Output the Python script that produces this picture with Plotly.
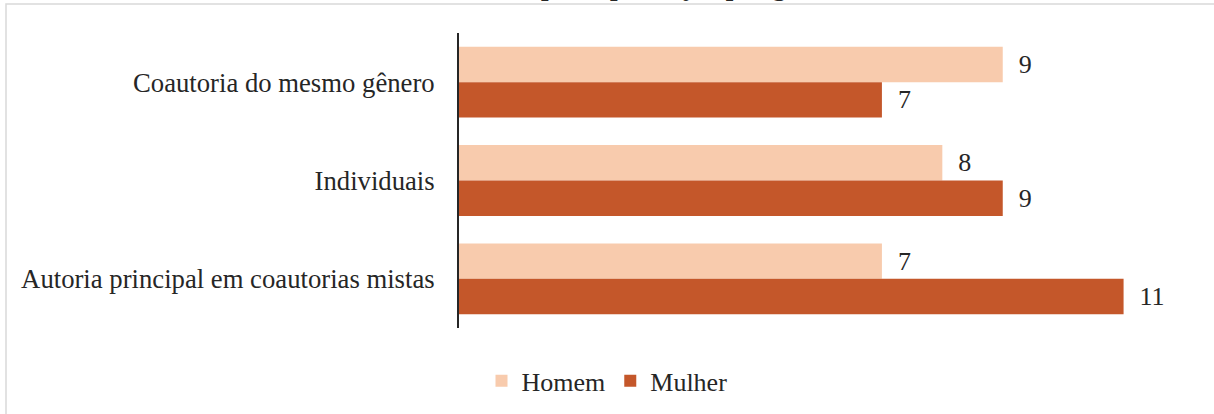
import plotly.graph_objects as go

# dados
categorias = ['Coautoria do mesmo gênero', 'Individuais', 'Autoria principal em coautorias mistas']
homem = [9, 8, 7]
mulher = [7, 9, 11]
titulo = 'Tipo de produção por gênero'

fonte = 'Liberation Serif, Times New Roman, serif'
nbsp = '\u00a0\u00a0'

bar_homem = go.Bar(
    y=categorias,
    x=homem,
    orientation='h',
    name='Homem',
    marker=dict(color='#F8CBAD', line=dict(width=0)),
    text=[nbsp + str(v) for v in homem],
    textposition='outside',
    textfont=dict(family=fonte, size=26, color='#262626'),
    cliponaxis=False
)

bar_mulher = go.Bar(
    y=categorias,
    x=mulher,
    orientation='h',
    name='Mulher',
    marker=dict(color='#C4572A', line=dict(width=0)),
    text=[nbsp + str(v) for v in mulher],
    textposition='outside',
    textfont=dict(family=fonte, size=26, color='#262626'),
    cliponaxis=False
)

layout = go.Layout(
    width=1214,
    height=414,
    margin=dict(l=459, r=30, t=33, b=86),
    paper_bgcolor='white',
    plot_bgcolor='white',
    font=dict(family=fonte, size=26, color='#262626'),
    barmode='group',
    bargap=0.28,
    bargroupgap=0,
    xaxis=dict(range=[0, 12], showgrid=False, zeroline=False,
               showticklabels=False, showline=False, ticks=''),
    yaxis=dict(autorange='reversed', showgrid=False, zeroline=False,
               showline=True, linecolor='#262626', linewidth=2,
               ticks='', ticklabelstandoff=17,
               tickfont=dict(family=fonte, size=26.7, color='#262626')),
    showlegend=True,
    legend=dict(orientation='h', xref='container', yref='container',
                x=0.5, xanchor='center', y=0.08, yanchor='middle',
                font=dict(family=fonte, size=26, color='#262626'),
                itemwidth=30, traceorder='normal'),
    annotations=[dict(
        text='<b>' + titulo + '</b>',
        xref='paper', yref='paper',
        x=(514 - 459) / 725, xanchor='left',
        y=(328 - 3) / 295, yanchor='bottom',
        showarrow=False,
        font=dict(family=fonte, size=27, color='#262626')
    )],
    shapes=[dict(
        type='rect', xref='paper', yref='paper',
        x0=(6 - 459) / 725, x1=(1240 - 459) / 725,
        y0=(328 - 425) / 295, y1=(328 - 4) / 295,
        line=dict(color='#D9D9D9', width=1.5),
        fillcolor='rgba(0,0,0,0)', layer='below'
    )]
)

fig = go.Figure(data=[bar_homem, bar_mulher], layout=layout)
# tira a margem padrão da página para o gráfico começar no canto
fig.write_html('out.html', config={'displayModeBar': False},
               post_script="document.body.style.margin='0';")
